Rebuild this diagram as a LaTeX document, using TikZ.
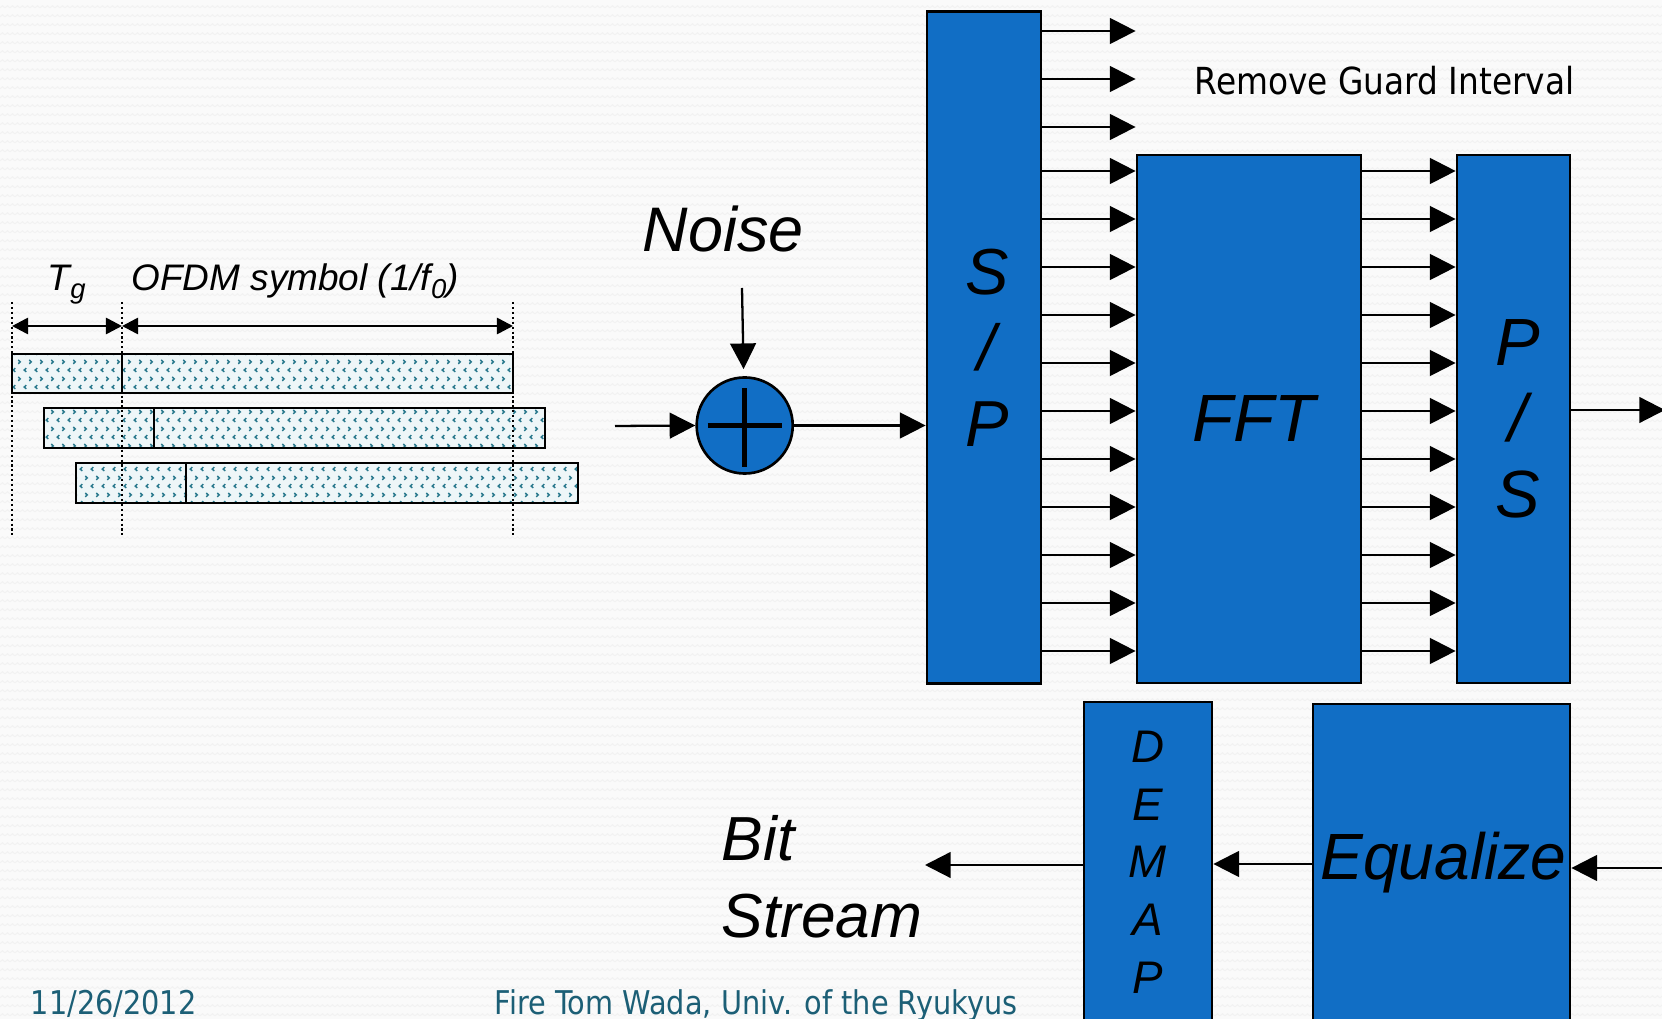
\documentclass[tikz,border=0pt]{standalone}
\usepackage{fontspec}
\setmainfont{Liberation Sans}
\newfontfamily\slidefont[FakeStretch=0.88]{DejaVu Sans}
\usetikzlibrary{arrows.meta,patterns}

\definecolor{boxblue}{RGB}{17,110,197}
\definecolor{footteal}{RGB}{28,95,118}
\definecolor{dotteal}{RGB}{40,120,140}
\definecolor{barfill}{RGB}{238,246,248}
\definecolor{paper}{RGB}{250,250,250}
\definecolor{paperwave}{RGB}{242,242,242}

% small alternating chevrons used inside the symbol bars
\pgfdeclarepatternformonly{chevrons}{\pgfpointorigin}{\pgfqpoint{3.2pt}{4.7pt}}{\pgfqpoint{3.2pt}{4.7pt}}{%
  \pgfsetlinewidth{0.45pt}%
  \pgfpathmoveto{\pgfqpoint{1.3pt}{0.6pt}}\pgfpathlineto{\pgfqpoint{0.7pt}{1.15pt}}\pgfpathlineto{\pgfqpoint{1.3pt}{1.7pt}}%
  \pgfpathmoveto{\pgfqpoint{2.2pt}{2.95pt}}\pgfpathlineto{\pgfqpoint{2.8pt}{3.5pt}}\pgfpathlineto{\pgfqpoint{2.2pt}{4.05pt}}%
  \pgfusepath{stroke}}

% faint wavy texture of the slide background
\pgfdeclarepatternformonly{wavy}{\pgfpointorigin}{\pgfqpoint{1.4pt}{2.55pt}}{\pgfqpoint{1.4pt}{2.55pt}}{%
  \pgfsetlinewidth{0.3pt}%
  \pgfpathmoveto{\pgfqpoint{0pt}{0.9pt}}\pgfpathlineto{\pgfqpoint{0.7pt}{1.5pt}}\pgfpathlineto{\pgfqpoint{1.4pt}{0.9pt}}%
  \pgfusepath{stroke}}

\begin{document}
\begin{tikzpicture}[x=0.01cm,y=-0.01cm,
  block/.style={draw=black, line width=0.75pt, fill=boxblue, inner sep=0pt, align=center},
  arr/.style={line width=0.65pt, -{Triangle[length=7.3pt,width=7.3pt]}},
  dimarr/.style={line width=0.75pt, {Triangle[length=4.6pt,width=4.6pt]}-{Triangle[length=4.6pt,width=4.6pt]}},
  guide/.style={line width=0.7pt, dash pattern=on 0.6pt off 0.8pt},
  bar/.style={draw=black, line width=0.8pt, preaction={fill=barfill}, pattern=chevrons, pattern color=dotteal},
  lbl/.style={inner sep=0pt},
  foot/.style={inner sep=0pt, text=footteal, font=\slidefont\fontsize{9.3}{11}\selectfont}
]
% page
\useasboundingbox (0,0) rectangle (1662,1019);
\clip (0,0) rectangle (1662,1019);
\fill[paper] (0,0) rectangle (1662,1019);
\fill[pattern=wavy, pattern color=paperwave] (0,0) rectangle (1662,1019);

% ---- guard interval timing sketch ----
\path[bar] (12,354) rectangle (513,393);
\draw[line width=0.8pt] (122,354) -- (122,393);
\path[bar] (44,408) rectangle (545,448);
\draw[line width=0.8pt] (154,408) -- (154,448);
\path[bar] (76,463) rectangle (578,503);
\draw[line width=0.8pt] (186,463) -- (186,503);

\coordinate (g0) at (12,302);
\coordinate (g1) at (122,302);
\coordinate (g2) at (513,302);
\draw[guide] (g0) -- ++(0,236);
\draw[guide] (g1) -- ++(0,236);
\draw[guide] (g2) -- ++(0,236);
\draw[dimarr] ([yshift=-0.24cm]g0) -- ([yshift=-0.24cm]g1);
\draw[dimarr] ([yshift=-0.24cm]g1) -- ([yshift=-0.24cm]g2);

\node[lbl, anchor=base west, font=\itshape\fontsize{10.5}{12}\selectfont] (tglbl) at (47,291)
  {T\raisebox{-2pt}{\fontsize{7.8}{8}\selectfont g}};
\node[lbl, anchor=base west, font=\itshape\fontsize{10.5}{12}\selectfont] (ofdmlbl) at (131,291)
  {OFDM symbol (1/f\raisebox{-2pt}{\fontsize{7.8}{8}\selectfont 0})};

% ---- channel noise ----
\node[circle, draw=black, line width=0.75pt, fill=boxblue, minimum size=0.96cm, inner sep=0pt] (adder) at (744.7,425.5) {};
\draw[line width=1.3pt] ([xshift=-0.37cm]adder.center) -- ([xshift=0.37cm]adder.center);
\draw[line width=1.3pt] ([yshift=0.37cm]adder.center) -- ([yshift=-0.41cm]adder.center);
\node[lbl, anchor=base west, font=\itshape\fontsize{17.9}{20}\selectfont] (noiselbl) at (642,252) {Noise};
\coordinate (noisein) at (742,288);
\coordinate (rxin) at (615,426);
\draw[arr, shorten >=2pt] (noisein) -- (adder);
\draw[arr] (rxin) -- (adder.west);

% ---- receiver blocks ----
\node[block, minimum width=1.14cm, minimum height=6.71cm, font=\itshape\fontsize{18.5}{21.6}\selectfont] (sp) at (984,347.5) {\hspace*{0.06cm}S\\\hspace*{0.06cm}/\\\hspace*{0.06cm}P};
\node[block, minimum width=2.24cm, minimum height=5.28cm, font=\itshape\fontsize{19}{22}\selectfont] (fft) at (1249,419) {\hspace*{0.1cm}FFT};
\node[block, minimum width=1.13cm, minimum height=5.28cm, font=\itshape\fontsize{19}{21.6}\selectfont] (ps) at (1513.5,419) {\hspace*{0.08cm}P\\\hspace*{0.08cm}/\\\hspace*{0.08cm}S};
\node[block, minimum width=1.28cm, minimum height=3.20cm, font=\itshape\fontsize{13}{16.4}\selectfont] (demap) at (1148,862) {D\\E\\M\\A\\P};
\node[block, minimum width=2.57cm, minimum height=3.18cm, font=\itshape\fontsize{18.6}{21}\selectfont] (eq) at (1441.5,863) {\hspace*{0.04cm}\scalebox{0.98}[1]{Equalize}};

\draw[arr] (adder.east) -- (sp.west |- adder.east);

% parallel outputs of S/P; the first three are the guard samples that are dropped
\foreach \yy in {31,79,127} {
  \coordinate (row) at (0,\yy);
  \draw[arr] (sp.east |- row) -- (fft.west |- row);
}
\foreach \yy in {171,219,...,651} {
  \coordinate (row) at (0,\yy);
  \draw[arr] (sp.east |- row) -- (fft.west |- row);
  \draw[arr] (fft.east |- row) -- (ps.west |- row);
}
\node[lbl, anchor=base west, font=\slidefont\fontsize{10.6}{12}\selectfont] (rgi) at (1194,95) {Remove Guard Interval};

\coordinate (psout) at (1665,410);
\draw[arr] (ps.east |- psout) -- (psout);

% ---- back end ----
\coordinate (eqin) at (1665,868);
\draw[arr] (eqin) -- (eq.east |- eqin);
\coordinate (mid) at (0,864);
\draw[arr] (eq.west |- mid) -- (demap.east |- mid);
\coordinate (bitend) at (925,865);
\draw[arr] (demap.west |- bitend) -- (bitend);
\node[lbl, anchor=west, align=left, font=\itshape\fontsize{17.7}{21.8}\selectfont] (bits) at (721,877) {Bit\\Stream};

% ---- footer ----
\node[foot, anchor=base west] (date) at (30,1015) {11/26/2012};
\node[foot, anchor=base west] (author) at (494,1015) {Fire Tom Wada, Univ. of the Ryukyus};
\end{tikzpicture}
\end{document}
